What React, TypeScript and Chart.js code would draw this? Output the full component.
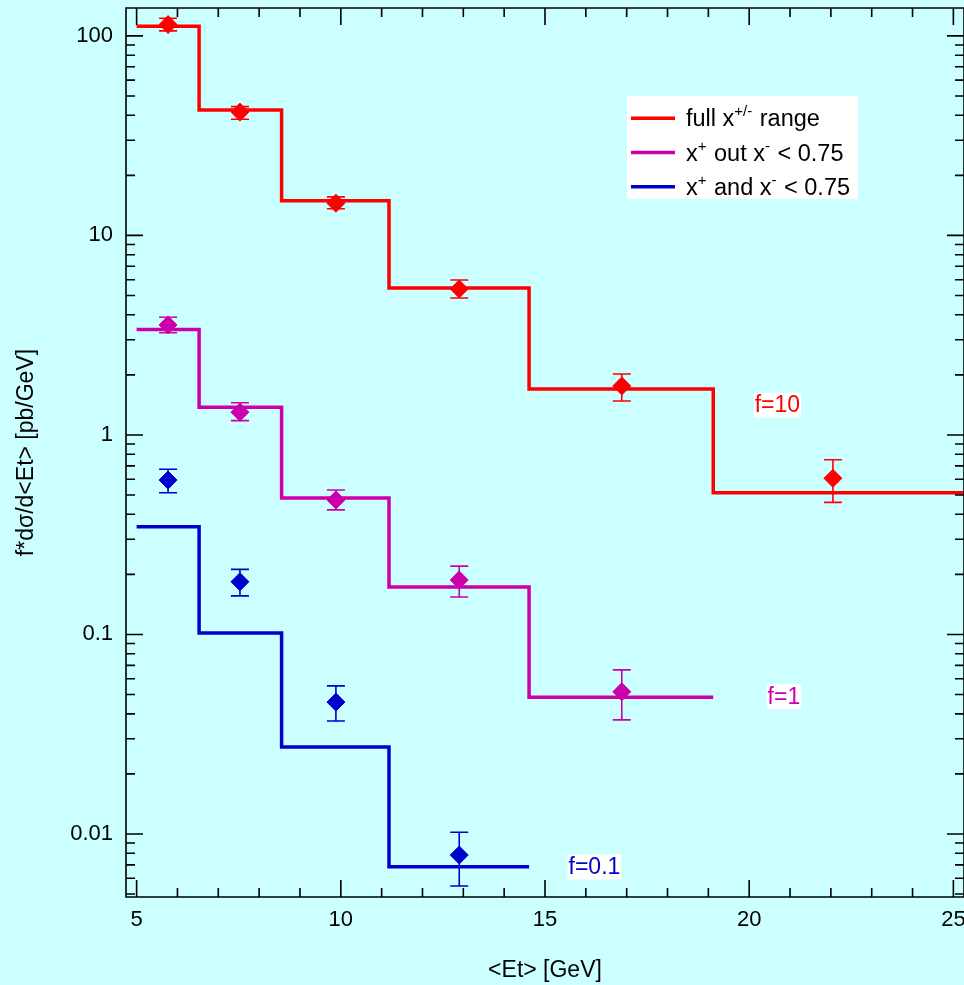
import React, { useEffect, useRef } from "react";
import { Chart, registerables } from "chart.js";

Chart.register(...registerables);

const FONT = "'Liberation Sans', Arial, sans-serif";
const BG = "#ccffff";
const RED = "#ff0000";
const MAGENTA = "#cc00aa";
const BLUE = "#0000cc";

// Histogram bin edges (GeV) and levels
const redEdges = [5.0, 6.53, 8.55, 11.18, 14.61, 19.12, 26.0];
const redHist = [111.7, 42.5, 14.9, 5.45, 1.7, 0.513];
const magentaEdges = [5.0, 6.53, 8.55, 11.18, 14.61, 19.12];
const magentaHist = [3.38, 1.376, 0.483, 0.173, 0.0484];
const blueEdges = [5.0, 6.53, 8.55, 11.18, 14.61];
const blueHist = [0.347, 0.1016, 0.0273, 0.00685];

// Data points with error bars
const pointX = [5.77, 7.53, 9.88, 12.9, 16.88, 22.05];
const redVal = [114, 41.5, 14.5, 5.39, 1.76, 0.606];
const redHi = [122.5, 44.2, 15.6, 5.98, 2.02, 0.751];
const redLo = [106, 38.2, 13.6, 4.86, 1.48, 0.459];
const magentaVal = [3.56, 1.3, 0.472, 0.1875, 0.0516];
const magentaHi = [3.89, 1.45, 0.53, 0.22, 0.0664];
const magentaLo = [3.25, 1.18, 0.421, 0.154, 0.0373];
const blueVal = [0.594, 0.1837, 0.0458, 0.00784];
const blueHi = [0.673, 0.212, 0.0552, 0.0102];
const blueLo = [0.513, 0.156, 0.0368, 0.00548];

const xTicks = [5, 10, 15, 20, 25];
const yTicks = [0.01, 0.1, 1, 10, 100];
const yTickLabels = ["0.01", "0.1", "1", "10", "100"];

const factorLabels = [
  { text: "f=10", x: 20.69, y: 1.41, color: RED },
  { text: "f=1", x: 20.85, y: 0.0488, color: MAGENTA },
  { text: "f=0.1", x: 16.21, y: 0.00683, color: BLUE },
];

const legendItems = [
  { color: RED, parts: [["full x", false], ["+/-", true], [" range", false]] },
  { color: MAGENTA, parts: [["x", false], ["+", true], [" out x", false], ["-", true], [" < 0.75", false]] },
  { color: BLUE, parts: [["x", false], ["+", true], [" and x", false], ["-", true], [" < 0.75", false]] },
];

function stepData(edges: number[], levels: number[]) {
  const d = [{ x: edges[0], y: levels[0] }];
  for (let i = 1; i < edges.length; i++) {
    d.push({ x: edges[i], y: levels[Math.min(i, levels.length - 1)] });
  }
  return d;
}

function pts(vals: number[]) {
  return vals.map((v, i) => ({ x: pointX[i], y: v }));
}

const errorSets = [
  { color: RED, val: redVal, hi: redHi, lo: redLo },
  { color: MAGENTA, val: magentaVal, hi: magentaHi, lo: magentaLo },
  { color: BLUE, val: blueVal, hi: blueHi, lo: blueLo },
];

const bgPlugin = {
  id: "bg",
  beforeDraw(chart: any) {
    const ctx = chart.ctx;
    ctx.save();
    ctx.fillStyle = BG;
    ctx.fillRect(0, 0, chart.width, chart.height);
    ctx.restore();
  },
};

const errorPlugin = {
  id: "errbars",
  beforeDatasetsDraw(chart: any) {
    const ctx = chart.ctx;
    const xs = chart.scales.x;
    const ys = chart.scales.y;
    ctx.save();
    ctx.lineWidth = 1.6;
    errorSets.forEach((s) => {
      ctx.strokeStyle = s.color;
      s.val.forEach((_, i) => {
        const px = xs.getPixelForValue(pointX[i]);
        const yh = ys.getPixelForValue(s.hi[i]);
        const yl = ys.getPixelForValue(s.lo[i]);
        ctx.beginPath();
        ctx.moveTo(px, yh);
        ctx.lineTo(px, yl);
        ctx.moveTo(px - 9, yh);
        ctx.lineTo(px + 9, yh);
        ctx.moveTo(px - 9, yl);
        ctx.lineTo(px + 9, yl);
        ctx.stroke();
      });
    });
    ctx.restore();
  },
};

function drawRich(ctx: any, x: number, y: number, parts: any[]) {
  let cx = x;
  parts.forEach(([t, sup]) => {
    ctx.font = sup ? `15px ${FONT}` : `23.5px ${FONT}`;
    ctx.fillText(t, cx, sup ? y - 10 : y);
    cx += ctx.measureText(t).width + (sup ? 1 : 0);
  });
}

const framePlugin = {
  id: "frame",
  afterDraw(chart: any) {
    const ctx = chart.ctx;
    const xs = chart.scales.x;
    const ys = chart.scales.y;
    const { left, right, top, bottom } = chart.chartArea;
    ctx.save();
    ctx.strokeStyle = "#000";
    ctx.lineWidth = 1.6;
    ctx.beginPath();
    ctx.rect(left, top, right - left, bottom - top);
    ctx.stroke();
    ctx.beginPath();
    // x ticks
    for (let v = 5; v <= 25; v++) {
      const px = xs.getPixelForValue(v);
      const len = v % 5 === 0 ? 17 : 9;
      ctx.moveTo(px, bottom);
      ctx.lineTo(px, bottom - len);
      ctx.moveTo(px, top);
      ctx.lineTo(px, top + len);
    }
    // y ticks
    for (let d = -3; d <= 2; d++) {
      for (let m = 1; m <= 9; m++) {
        const v = m * Math.pow(10, d);
        if (v < ys.min || v > ys.max) continue;
        const py = ys.getPixelForValue(v);
        const len = m === 1 ? 17 : 9;
        ctx.moveTo(left, py);
        ctx.lineTo(left + len, py);
        ctx.moveTo(right, py);
        ctx.lineTo(right - len, py);
      }
    }
    ctx.stroke();

    // factor labels
    ctx.font = `23px ${FONT}`;
    ctx.textBaseline = "middle";
    ctx.textAlign = "center";
    factorLabels.forEach((l) => {
      const px = xs.getPixelForValue(l.x);
      const py = ys.getPixelForValue(l.y);
      const w = ctx.measureText(l.text).width;
      ctx.fillStyle = "#ffffff";
      ctx.fillRect(px - w / 2 - 1, py - 12.5, w + 2, 25);
      ctx.fillStyle = l.color;
      ctx.fillText(l.text, px, py + 1);
    });

    // legend
    ctx.fillStyle = "#ffffff";
    ctx.fillRect(627, 96, 231, 103);
    ctx.textAlign = "left";
    ctx.textBaseline = "alphabetic";
    legendItems.forEach((it, i) => {
      const ly = 118.3 + i * 34.2;
      ctx.strokeStyle = it.color;
      ctx.lineWidth = 3.5;
      ctx.beginPath();
      ctx.moveTo(631, ly);
      ctx.lineTo(675, ly);
      ctx.stroke();
      ctx.fillStyle = "#000";
      drawRich(ctx, 686, ly + 8, it.parts);
    });
    ctx.restore();
  },
};

const zeroPad = (s: any) => {
  s.paddingTop = 0;
  s.paddingBottom = 0;
  s.paddingLeft = 0;
  s.paddingRight = 0;
};

export default function App() {
  const ref = useRef<HTMLCanvasElement>(null);
  useEffect(() => {
    document.body.style.margin = "0";
    document.body.style.background = BG;
    const lineDs = (label: string, edges: number[], levels: number[], color: string) => ({
      type: "line" as const,
      label,
      data: stepData(edges, levels),
      stepped: "before" as const,
      borderColor: color,
      borderWidth: 3.5,
      pointRadius: 0,
      fill: false,
    });
    const ptDs = (label: string, vals: number[], color: string) => ({
      type: "scatter" as const,
      label,
      data: pts(vals),
      pointStyle: "rectRot" as const,
      pointRadius: 9,
      backgroundColor: color,
      borderColor: color,
      borderWidth: 1,
    });
    const chart = new Chart(ref.current!, {
      type: "scatter",
      data: {
        datasets: [
          lineDs("full x+/- range", redEdges, redHist, RED),
          lineDs("x+ out x- < 0.75", magentaEdges, magentaHist, MAGENTA),
          lineDs("x+ and x- < 0.75", blueEdges, blueHist, BLUE),
          ptDs("red points", redVal, RED),
          ptDs("magenta points", magentaVal, MAGENTA),
          ptDs("blue points", blueVal, BLUE),
        ] as any,
      },
      options: {
        responsive: false,
        animation: false,
        layout: { autoPadding: false, padding: { top: 8, right: 0, bottom: 0, left: 0 } },
        plugins: { legend: { display: false }, tooltip: { enabled: false } },
        scales: {
          x: {
            type: "linear",
            min: 4.74,
            max: 25.26,
            afterBuildTicks: (s: any) => {
              s.ticks = xTicks.map((v) => ({ value: v }));
            },
            afterFit: (s: any) => {
              s.height = 88;
              zeroPad(s);
            },
            grid: { display: false, drawTicks: false },
            border: { display: false },
            ticks: {
              color: "#000",
              font: { family: FONT, size: 22 },
              padding: 10,
              maxRotation: 0,
              autoSkip: false,
            },
            title: {
              display: true,
              text: "<Et> [GeV]",
              color: "#000",
              font: { family: FONT, size: 23 },
              padding: { top: 0, bottom: 1 },
            },
          },
          y: {
            type: "logarithmic",
            min: 0.00483,
            max: 138,
            afterBuildTicks: (s: any) => {
              s.ticks = yTicks.map((v) => ({ value: v }));
            },
            afterFit: (s: any) => {
              s.width = 126;
              zeroPad(s);
            },
            grid: { display: false, drawTicks: false },
            border: { display: false },
            ticks: {
              color: "#000",
              font: { family: FONT, size: 22 },
              padding: 13,
              autoSkip: false,
              callback: (v: any) => {
                const i = yTicks.findIndex((t) => Math.abs(t - Number(v)) / t < 1e-6);
                return i >= 0 ? yTickLabels[i] : "";
              },
            },
            title: {
              display: true,
              text: "f*dσ/d<Et> [pb/GeV]",
              color: "#000",
              font: { family: FONT, size: 23 },
              padding: { top: 13, bottom: 0 },
            },
          },
        },
      },
      plugins: [bgPlugin, errorPlugin, framePlugin],
    });
    return () => chart.destroy();
  }, []);
  return (
    <div style={{ width: 964, height: 985, background: BG }}>
      <canvas ref={ref} width={964} height={985} style={{ display: "block" }} />
    </div>
  );
}
